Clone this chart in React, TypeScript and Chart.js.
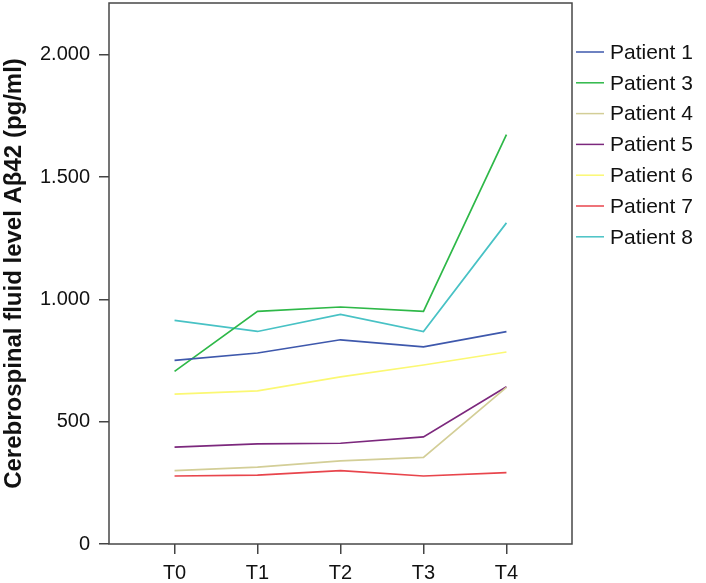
import React, { useEffect, useRef } from "react";
import { Chart, registerables } from "chart.js";

Chart.register(...registerables);

const FONT = "'Liberation Sans', Arial, Helvetica, sans-serif";

const timepoints = ["T0", "T1", "T2", "T3", "T4"];
const patientNames = ["Patient 1", "Patient 3", "Patient 4", "Patient 5", "Patient 6", "Patient 7", "Patient 8"];
const patient1 = [751, 781, 835, 806, 868];
const patient3 = [706, 951, 969, 951, 1674];
const patient4 = [300, 314, 340, 354, 640];
const patient5 = [396, 409, 412, 438, 643];
const patient6 = [613, 626, 683, 732, 785];
const patient7 = [278, 282, 300, 278, 292];
const patient8 = [914, 869, 939, 869, 1313];
const yTicks = [0, 500, 1000, 1500, 2000];
const seriesColors = ["#3E58AC", "#2EB848", "#D3CE97", "#7C287D", "#FBF873", "#E8454C", "#48C2C5"];

const allSeries = [patient1, patient3, patient4, patient5, patient6, patient7, patient8];

const fmt = (v: number) => String(v).replace(/\B(?=(\d{3})+(?!\d))/g, ".");

const framePlugin = {
  id: "frame",
  afterDraw(chart: any) {
    const { ctx, chartArea } = chart;
    ctx.save();
    ctx.strokeStyle = "#474747";
    ctx.lineWidth = 1.5;
    ctx.strokeRect(chartArea.left, chartArea.top, chartArea.right - chartArea.left, chartArea.bottom - chartArea.top);
    ctx.restore();
  },
};

const legendPlugin = {
  id: "sideLegend",
  afterDraw(chart: any) {
    const { ctx, chartArea } = chart;
    ctx.save();
    ctx.font = `21px ${FONT}`;
    ctx.textBaseline = "middle";
    ctx.textAlign = "left";
    chart.data.datasets.forEach((ds: any, i: number) => {
      const y = chartArea.top + 49 + i * 30.8;
      ctx.strokeStyle = ds.borderColor;
      ctx.lineWidth = 1.5;
      ctx.beginPath();
      ctx.moveTo(chartArea.right + 4, y);
      ctx.lineTo(chartArea.right + 32, y);
      ctx.stroke();
      ctx.fillStyle = "#111";
      ctx.fillText(ds.label, chartArea.right + 38, y + 1);
    });
    ctx.restore();
  },
};

export default function App() {
  const ref = useRef<HTMLCanvasElement | null>(null);
  useEffect(() => {
    document.body.style.margin = "0";
    const canvas = ref.current;
    if (!canvas) return;
    const chart = new Chart(canvas, {
      type: "line",
      data: {
        datasets: allSeries.map((vals, i) => ({
          label: patientNames[i],
          data: vals.map((v, j) => ({ x: j, y: v })),
          borderColor: seriesColors[i],
          backgroundColor: seriesColors[i],
          borderWidth: 1.7,
          pointRadius: 0,
          tension: 0,
          fill: false,
        })),
      },
      options: {
        responsive: false,
        animation: false,
        layout: { padding: { top: 3, right: 134, left: 0, bottom: 0 } },
        plugins: { legend: { display: false }, tooltip: { enabled: false } },
        scales: {
          x: {
            type: "linear",
            min: -0.79,
            max: 4.79,
            afterBuildTicks: (scale: any) => {
              scale.ticks = timepoints.map((_, i) => ({ value: i }));
            },
            afterFit: (scale: any) => {
              scale.height = 39;
              scale.paddingLeft = 0;
              scale.paddingRight = 0;
            },
            border: { display: false },
            grid: { drawOnChartArea: false, drawTicks: true, tickLength: 10, color: "#444", lineWidth: 1.5 },
            ticks: {
              autoSkip: false,
              maxRotation: 0,
              padding: 7,
              color: "#111",
              font: { family: FONT, size: 20 },
              callback: (v: any) => timepoints[Math.round(Number(v))] ?? "",
            },
          },
          y: {
            type: "linear",
            min: 0,
            max: 2212,
            afterBuildTicks: (scale: any) => {
              scale.ticks = yTicks.map((v) => ({ value: v }));
            },
            afterFit: (scale: any) => {
              scale.width = 109;
              scale.paddingTop = 0;
              scale.paddingBottom = 0;
            },
            border: { display: false },
            grid: { drawOnChartArea: false, drawTicks: true, tickLength: 10, color: "#444", lineWidth: 1.5 },
            ticks: {
              padding: 9,
              color: "#111",
              font: { family: FONT, size: 20 },
              callback: (v: any) => fmt(Number(v)),
            },
            title: {
              display: true,
              text: "Cerebrospinal fluid level Aβ42 (pg/ml)",
              color: "#111",
              font: { family: FONT, size: 24, weight: "bold" },
              padding: { top: 0, bottom: 0 },
            },
          },
        },
      },
      plugins: [framePlugin, legendPlugin],
    });
    return () => chart.destroy();
  }, []);
  return (
    <div style={{ width: 706, height: 583, background: "#fff" }}>
      <canvas ref={ref} width={706} height={583} />
    </div>
  );
}
